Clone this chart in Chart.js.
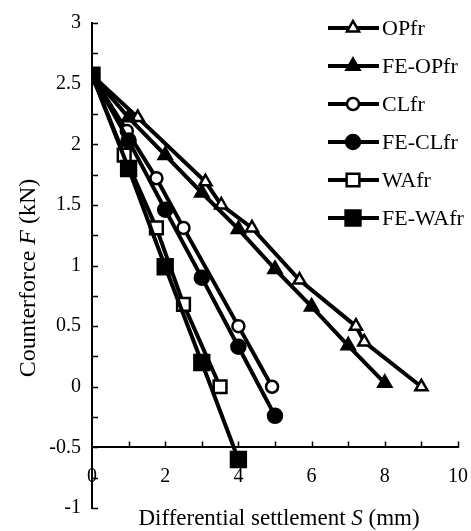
<!DOCTYPE html>
<html>
<head>
<meta charset="utf-8">
<script src="https://cdn.jsdelivr.net/npm/chart.js@4.4.1/dist/chart.umd.min.js"></script>
<style>
  html, body { margin: 0; padding: 0; background: #fff; }
  #wrap { width: 471px; height: 531px; }
</style>
</head>
<body>
<div id="wrap"><canvas id="chart"></canvas></div>
<script>
const seriesNames = ['OPfr', 'FE-OPfr', 'CLfr', 'FE-CLfr', 'WAfr', 'FE-WAfr'];

const opfrX = [0, 1.25, 3.1, 3.53, 4.37, 5.67, 7.21, 7.44, 9];
const opfrY = [2.57, 2.22, 1.69, 1.5, 1.31, 0.88, 0.5, 0.37, 0];
const feOpfrX = [0, 1, 2, 3, 4, 5, 6, 7, 8];
const feOpfrY = [2.57, 2.22, 1.91, 1.6, 1.3, 0.97, 0.66, 0.34, 0.03];
const clfrX = [0, 0.95, 1.76, 2.5, 4, 4.92];
const clfrY = [2.57, 2.11, 1.72, 1.31, 0.5, 0];
const feClfrX = [0, 1, 2, 3, 4, 5];
const feClfrY = [2.57, 2.03, 1.46, 0.9, 0.33, -0.24];
const wafrX = [0, 0.88, 1.76, 2.5, 3.5];
const wafrY = [2.57, 1.91, 1.31, 0.68, 0];
const feWafrX = [0, 1, 2, 3, 4];
const feWafrY = [2.57, 1.8, 0.99, 0.2, -0.6];

const xTicks = [0, 2, 4, 6, 8, 10];
const yTicks = [-1, -0.5, 0, 0.5, 1, 1.5, 2, 2.5, 3];

const serif = '"Liberation Serif", "Times New Roman", serif';

function pts(xs, ys) {
    return xs.map((x, i) => ({ x: x, y: ys[i] }));
}

// marker style per series
const markers = [
    { style: 'triangle', radius: 7, fill: '#fff' },
    { style: 'triangle', radius: 7.5, fill: '#000' },
    { style: 'circle', radius: 6, fill: '#fff' },
    { style: 'circle', radius: 7, fill: '#000' },
    { style: 'rect', radius: 9, fill: '#fff' },
    { style: 'rect', radius: 10.5, fill: '#000' }
];
const allX = [opfrX, feOpfrX, clfrX, feClfrX, wafrX, feWafrX];
const allY = [opfrY, feOpfrY, clfrY, feClfrY, wafrY, feWafrY];

const datasets = seriesNames.map((name, i) => ({
    label: name,
    data: pts(allX[i], allY[i]),
    borderColor: '#000',
    borderWidth: 4,
    pointStyle: markers[i].style,
    pointRadius: markers[i].radius,
    pointBackgroundColor: markers[i].fill,
    pointBorderColor: '#000',
    pointBorderWidth: 2.5,
    tension: 0,
    order: seriesNames.length - i
}));

function drawParts(ctx, parts, cx, cy, size) {
    let total = 0;
    parts.forEach(p => {
        ctx.font = (p.italic ? 'italic ' : '') + size + 'px ' + serif;
        p.w = ctx.measureText(p.t).width;
        total += p.w;
    });
    let x = cx - total / 2;
    ctx.textAlign = 'left';
    parts.forEach(p => {
        ctx.font = (p.italic ? 'italic ' : '') + size + 'px ' + serif;
        ctx.fillText(p.t, x, cy);
        x += p.w;
    });
}

// inner tick marks, axis titles and the legend
const decorations = {
    id: 'decorations',
    afterDraw(chart) {
        const ctx = chart.ctx;
        const xs = chart.scales.x, ys = chart.scales.y;
        const left = xs.getPixelForValue(0);
        const axisY = ys.getPixelForValue(-0.5);
        ctx.save();
        ctx.strokeStyle = '#000';
        ctx.lineWidth = 1.5;
        ctx.beginPath();
        for (let v = -1; v <= 3.001; v += 0.25) {
            const p = Math.round(ys.getPixelForValue(v)) + 0.5;
            ctx.moveTo(left, p);
            ctx.lineTo(left + 6, p);
        }
        for (let v = 1; v <= 10; v += 1) {
            const p = Math.round(xs.getPixelForValue(v)) + 0.5;
            ctx.moveTo(p, axisY);
            ctx.lineTo(p, axisY - 6);
        }
        ctx.stroke();

        ctx.fillStyle = '#000';
        ctx.textBaseline = 'alphabetic';
        drawParts(ctx, [{ t: 'Differential settlement ' }, { t: 'S', italic: true }, { t: ' (mm)' }],
            279, 525, 23);

        ctx.save();
        ctx.translate(35, 278);
        ctx.rotate(-Math.PI / 2);
        drawParts(ctx, [{ t: 'Counterforce ' }, { t: 'F', italic: true }, { t: ' (kN)' }], 0, 0, 24);
        ctx.restore();

        // legend
        chart.data.datasets.forEach((ds, i) => {
            const y = 28 + i * 38;
            ctx.lineWidth = 4;
            ctx.beginPath();
            ctx.moveTo(328, y);
            ctx.lineTo(379, y);
            ctx.stroke();
            ctx.fillStyle = ds.pointBackgroundColor;
            ctx.lineWidth = ds.pointBorderWidth;
            Chart.helpers.drawPoint(ctx, {
                pointStyle: ds.pointStyle,
                radius: ds.pointRadius,
                borderWidth: ds.pointBorderWidth,
                rotation: 0
            }, 353, y);
            ctx.fillStyle = '#000';
            ctx.textBaseline = 'middle';
            ctx.textAlign = 'left';
            ctx.font = '22px ' + serif;
            ctx.fillText(ds.label, 382, y + 1);
        });
        ctx.restore();
    }
};

new Chart(document.getElementById('chart'), {
    type: 'line',
    data: { datasets: datasets },
    options: {
        responsive: true,
        maintainAspectRatio: false,
        animation: false,
        layout: { padding: { top: 17, right: 12, bottom: 12, left: 0 } },
        plugins: { legend: { display: false }, tooltip: { enabled: false } },
        scales: {
            x: {
                type: 'linear',
                min: 0,
                max: 10,
                position: { y: -0.5 },
                afterBuildTicks(scale) {
                    scale.ticks = xTicks.map(v => ({ value: v }));
                },
                afterFit(scale) {
                    scale.paddingLeft = 0;
                    scale.paddingRight = 0;
                },
                grid: { display: false, drawTicks: false },
                border: { display: true, color: '#000', width: 2 },
                ticks: {
                    padding: 17,
                    autoSkip: false,
                    maxRotation: 0,
                    color: '#000',
                    font: { family: serif, size: 20 },
                    callback: v => String(v)
                }
            },
            y: {
                type: 'linear',
                min: -1,
                max: 3,
                afterBuildTicks(scale) {
                    scale.ticks = yTicks.map(v => ({ value: v }));
                },
                afterFit(scale) { scale.width = 92; },
                grid: { display: false, drawTicks: false },
                border: { display: true, color: '#000', width: 2 },
                ticks: {
                    padding: 11,
                    color: '#000',
                    font: { family: serif, size: 20 },
                    callback: v => String(v)
                }
            }
        }
    },
    plugins: [decorations]
});
</script>
</body>
</html>
